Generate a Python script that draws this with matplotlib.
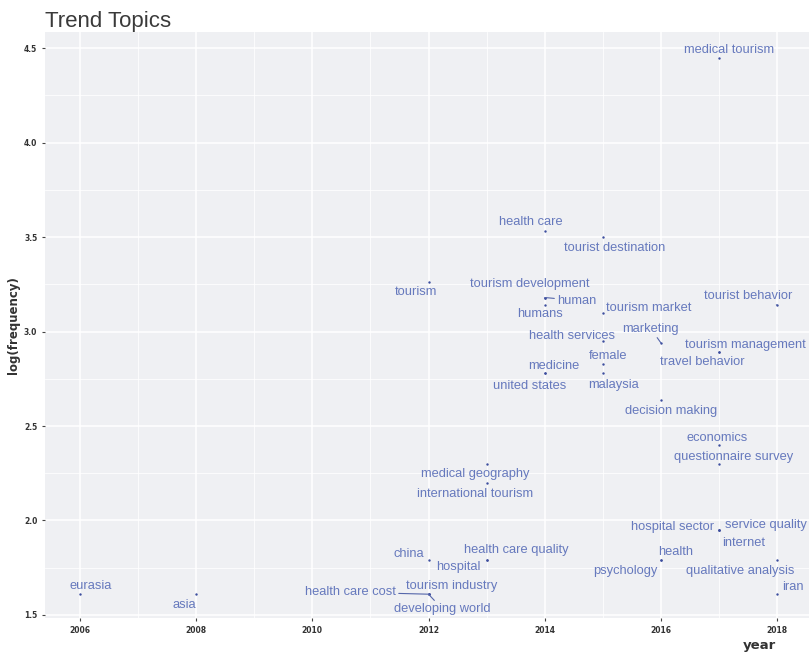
import numpy as np
import matplotlib
matplotlib.use("Agg")
from matplotlib import pyplot as plt

# trend topics: term, year (median), log(frequency)
terms = ["medical tourism", "health care", "tourist destination", "tourism",
         "tourism development", "human", "humans", "tourism market",
         "tourist behavior", "health services", "marketing", "tourism management",
         "travel behavior", "female", "medicine", "united states", "malaysia",
         "decision making", "economics", "questionnaire survey", "medical geography",
         "international tourism", "hospital sector", "service quality", "internet",
         "china", "health care quality", "hospital", "health", "psychology",
         "qualitative analysis", "iran", "tourism industry", "health care cost",
         "developing world", "eurasia", "asia"]
years = [2017, 2014, 2015, 2012,
         2014, 2014, 2014, 2015,
         2018, 2015, 2016, 2017,
         2017, 2015, 2014, 2014, 2015,
         2016, 2017, 2017, 2013,
         2013, 2017, 2017, 2017,
         2012, 2013, 2013, 2016, 2016,
         2018, 2018, 2012, 2012,
         2012, 2006, 2008]
log_freq = [4.45, 3.53, 3.50, 3.26,
            3.18, 3.18, 3.14, 3.10,
            3.14, 2.95, 2.94, 2.89,
            2.89, 2.83, 2.78, 2.78, 2.78,
            2.64, 2.40, 2.30, 2.30,
            2.20, 1.95, 1.95, 1.95,
            1.79, 1.79, 1.79, 1.79, 1.79,
            1.79, 1.61, 1.61, 1.61,
            1.61, 1.61, 1.61]

x_ticks = [2006, 2008, 2010, 2012, 2014, 2016, 2018]
y_ticks = [1.5, 2.0, 2.5, 3.0, 3.5, 4.0, 4.5]

# label offsets from the point in pixels (right, up), repel-like placement
offsets = {
    "medical tourism": (10, 8), "health care": (-14, 9), "tourist destination": (12, -11),
    "tourism": (-13, -10), "tourism development": (-15, 14), "human": (32, -3),
    "humans": (-5, -9), "tourism market": (46, 5), "tourist behavior": (-29, 9),
    "health services": (-31, 5), "marketing": (-10, 14), "tourism management": (26, 7),
    "travel behavior": (-17, -10), "female": (5, 8), "medicine": (9, 7),
    "united states": (-15, -13), "malaysia": (11, -12), "decision making": (10, -11),
    "economics": (-2, 7), "questionnaire survey": (15, 7), "medical geography": (-11, -10),
    "international tourism": (-12, -11), "hospital sector": (-46, 3),
    "service quality": (47, 5), "internet": (25, -13), "china": (-20, 6),
    "health care quality": (30, 10), "hospital": (-28, -7), "health": (15, 8),
    "psychology": (-36, -11), "qualitative analysis": (-37, -11), "iran": (16, 7),
    "tourism industry": (23, 8), "health care cost": (-78, 2),
    "developing world": (14, -15), "eurasia": (11, 8), "asia": (-12, -11),
}
with_segment = ["human", "tourist behavior", "marketing", "health care cost", "developing world"]

dpi = 100
fig = plt.figure(figsize=(8.09, 6.54), dpi=dpi)
ax = fig.add_axes([45/809, 36/654, 764/809, 586/654])
ax.set_facecolor("#eff0f3")
for s in ax.spines.values():
    s.set_visible(False)

ax.set_xticks(x_ticks)
ax.set_xticks(np.arange(2007, 2019, 2), minor=True)
ax.set_yticks(y_ticks)
ax.set_yticks(np.arange(1.75, 4.6, 0.5), minor=True)
ax.set_xticklabels([str(v) for v in x_ticks])
ax.set_yticklabels(["%.1f" % v for v in y_ticks])
ax.set_xlim(2005.397, 2018.55)
ax.set_ylim(1.484, 4.585)
ax.grid(True, which="major", color="white", lw=1.1)
ax.grid(True, which="minor", color="white", lw=0.55)
ax.set_axisbelow(True)
ax.tick_params(which="major", length=2.5, width=0.8, color="#444444",
               labelsize=5.5, labelcolor="#333333", pad=3)
ax.tick_params(which="minor", length=0)
for lab in ax.get_xticklabels() + ax.get_yticklabels():
    lab.set_fontweight("bold")

ax.scatter(years, log_freq, s=3, color="#3d4e9e", zorder=3, linewidths=0)

pt = 72.0 / dpi
for t, x, y in zip(terms, years, log_freq):
    dx, dy = offsets[t]
    props = None
    if t in with_segment:
        props = dict(arrowstyle="-", color="#5566aa", lw=0.8, shrinkA=0, shrinkB=0)
    ax.annotate(t, xy=(x, y), xytext=(dx * pt, dy * pt), textcoords="offset points",
                ha="center", va="center", fontsize=9.3, color="#6679bd",
                family="Liberation Sans", arrowprops=props, zorder=4,
                annotation_clip=False)

ax.set_ylabel("log(frequency)", fontsize=8.5, fontweight="bold", color="#333333")
ax.yaxis.set_label_coords(-25/764, 0.5)
ax.set_xlabel("year", fontsize=9.5, fontweight="bold", color="#333333")
ax.xaxis.set_label_coords(0.935, -0.035)

fig.text(45/809, 1 - 27/654, "Trend Topics", fontsize=16, color="#3a3a3a",
         family="Liberation Sans", va="baseline", ha="left")

fig.savefig("out.png", dpi=dpi)
